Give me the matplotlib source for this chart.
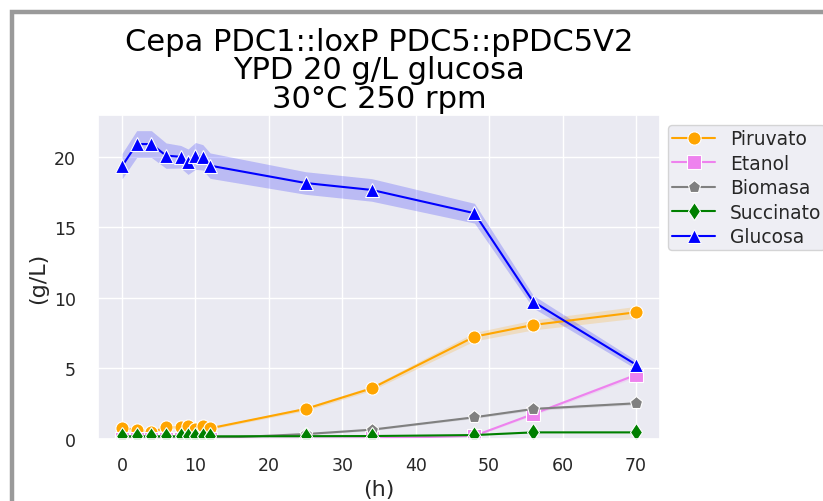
import matplotlib
matplotlib.use("Agg")
import matplotlib.pyplot as plt
import seaborn as sns
import numpy as np
from matplotlib.patches import Rectangle

sns.set_theme(style="darkgrid")
plt.rcParams['font.family'] = ['DejaVu Sans']

# ---- data ----
tiempo = [0, 2, 4, 6, 8, 9, 10, 11, 12, 25, 34, 48, 56, 70]
glucosa = [19.33, 20.9, 20.9, 20.08, 20.0, 19.65, 20.06, 19.96, 19.37, 18.14, 17.65, 16.0, 9.73, 5.27]
glucosa_err = [0.9, 0.95, 0.95, 0.9, 0.8, 0.9, 0.95, 0.9, 0.9, 0.8, 0.8, 0.7, 0.45, 0.3]
piruvato = [0.76, 0.66, 0.47, 0.83, 0.83, 0.92, 0.71, 0.92, 0.76, 2.13, 3.59, 7.25, 8.08, 8.98]
piruvato_err = [0.08, 0.08, 0.08, 0.08, 0.08, 0.08, 0.08, 0.08, 0.08, 0.12, 0.15, 0.3, 0.35, 0.42]
etanol = [0.0, 0.0, 0.0, 0.0, 0.0, 0.0, 0.0, 0.0, 0.0, 0.02, 0.04, 0.23, 1.77, 4.54]
etanol_err = [0.0, 0.0, 0.0, 0.0, 0.0, 0.0, 0.0, 0.0, 0.0, 0.02, 0.03, 0.05, 0.1, 0.15]
biomasa = [0.05, 0.05, 0.05, 0.05, 0.05, 0.05, 0.05, 0.05, 0.05, 0.35, 0.66, 1.54, 2.13, 2.53]
biomasa_err = [0.02, 0.02, 0.02, 0.02, 0.02, 0.02, 0.02, 0.02, 0.02, 0.05, 0.06, 0.08, 0.1, 0.1]
succinato = [0.19, 0.19, 0.19, 0.19, 0.19, 0.19, 0.19, 0.19, 0.19, 0.2, 0.21, 0.28, 0.47, 0.47]
succinato_err = [0.02] * 14

series = [
    ("Piruvato", piruvato, piruvato_err, "orange", "o"),
    ("Etanol", etanol, etanol_err, "violet", "s"),
    ("Biomasa", biomasa, biomasa_err, "gray", "p"),
    ("Succinato", succinato, succinato_err, "green", "d"),
    ("Glucosa", glucosa, glucosa_err, "blue", "^"),
]

fig = plt.figure(figsize=(8.23, 5.02), dpi=100)
ax = fig.add_axes([98/823, 1 - 440/502, (660-98)/823, (440-116)/502])

t = np.array(tiempo, dtype=float)
for name, vals, err, col, mk in series:
    v = np.array(vals); e = np.array(err)
    ax.fill_between(t, v - e, v + e, color=col, alpha=0.2, linewidth=0)
    ax.plot(t, v, color=col, marker=mk, markersize=9.5, markeredgecolor='white',
            markeredgewidth=0.8, linewidth=1.5, label=name)

ax.set_xlim(-3.27, 73.27)
ax.set_ylim(0, 22.96)
ax.set_xticks([0, 10, 20, 30, 40, 50, 60, 70])
ax.set_yticks([0, 5, 10, 15, 20])
ax.tick_params(axis='both', labelsize=12.5, colors='#262626')
ax.tick_params(axis='y', pad=10)
ax.tick_params(axis='x', pad=6)
ax.set_xlabel("(h)", fontsize=16, color='#262626', labelpad=4)
ax.set_ylabel("(g/L)", fontsize=16, color='#262626', labelpad=4)
ax.set_title("Cepa PDC1::loxP PDC5::pPDC5V2\nYPD 20 g/L glucosa\n30°C 250 rpm",
             fontsize=22, color='black', linespacing=0.98, pad=6)

leg = ax.legend(loc='upper left', bbox_to_anchor=(1.005, 0.985), fontsize=13.4,
                handlelength=2.3, handletextpad=0.8, labelspacing=0.3,
                borderaxespad=0.3, borderpad=0.2, frameon=True)

# border frame
fig.patches.append(Rectangle((12/823, -0.1), 1.2, 1.1 - 12.5/502, transform=fig.transFigure,
                             fill=False, edgecolor='#9a9a9a', linewidth=3.2, zorder=10))

fig.savefig("out.png", dpi=100)
